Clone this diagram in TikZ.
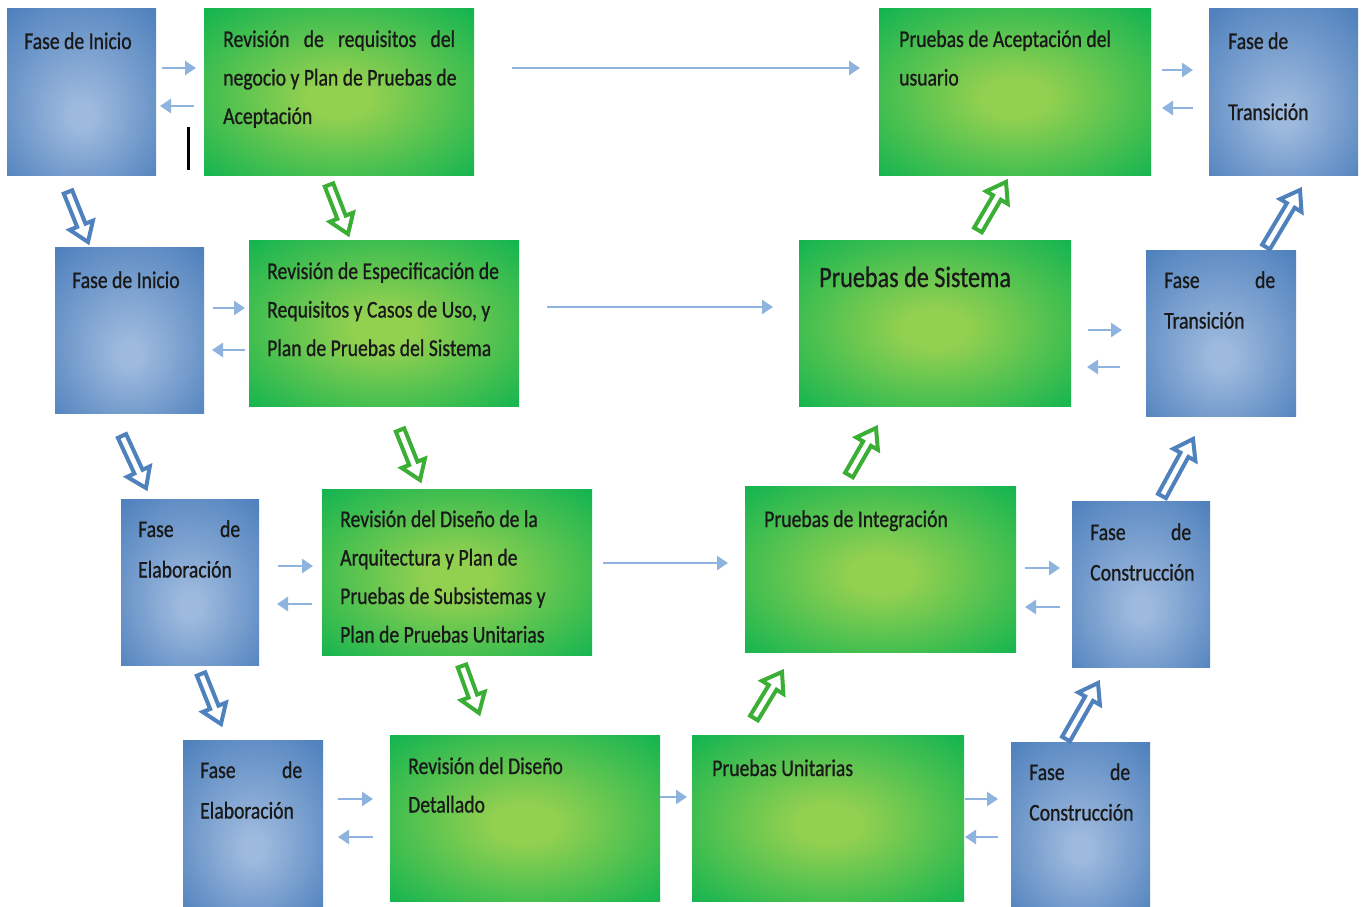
\documentclass[tikz,border=0pt]{standalone}
\usepackage{fontspec}
\setmainfont{Carlito}[FakeStretch=0.82, FakeBold=0.8]
\usetikzlibrary{arrows.meta,calc}
\definecolor{bOut}{HTML}{4F81BD}
\definecolor{bIn}{HTML}{9DB9DD}
\definecolor{gOut}{HTML}{00B050}
\definecolor{gIn}{HTML}{92D050}
\definecolor{thinArr}{HTML}{8FB3DF}
\definecolor{fatBlue}{HTML}{4F81BD}
\definecolor{fatGreen}{HTML}{3AAE35}
\pgfdeclareradialshading{bluegrad}{\pgfpoint{0bp}{-8bp}}{color(0bp)=(bIn); color(4bp)=(bIn); color(36bp)=(bOut); color(50bp)=(bOut)}
\pgfdeclareradialshading{greengrad}{\pgfpoint{0bp}{-2bp}}{color(0bp)=(gIn); color(6bp)=(gIn); color(40bp)=(gOut); color(50bp)=(gOut)}
\newcommand\fatarrow[3]{%
  \coordinate (FAh) at ($(#3)!18pt!(#2)$);
  \filldraw[draw=#1, fill=white, line width=4pt, line join=miter, miter limit=6]
    ($(#2)!4.5pt!90:(#3)$) -- ($(FAh)!4.5pt!-90:(#2)$) -- ($(FAh)!12.5pt!-90:(#2)$) -- (#3)
    -- ($(FAh)!12.5pt!90:(#2)$) -- ($(FAh)!4.5pt!90:(#2)$) -- ($(#2)!4.5pt!-90:(#3)$) -- cycle;
}
\tikzset{
  bbox/.style={shade, shading=bluegrad, draw=none, inner sep=0pt, outer sep=0pt, minimum height=166pt},
  gbox/.style={shade, shading=greengrad, draw=none, inner sep=0pt, outer sep=0pt, minimum width=270pt, minimum height=166pt},
  btxt/.style={anchor=base west, inner sep=0pt, align=left, text=black!90, font=\fontsize{24}{40.5}\selectfont,
    execute at begin node={\spaceskip=0pt\xspaceskip=0pt\relax}},
  gtxt/.style={anchor=base west, inner sep=0pt, align=left, text=black!90, text width=250pt, font=\fontsize{24}{38.5}\selectfont,
    execute at begin node={\spaceskip=0pt\xspaceskip=0pt\relax}},
  tarr/.style={draw=thinArr, line width=2.6pt, -{Triangle[length=11pt,width=14pt]}},
}
\begin{document}
\begin{tikzpicture}[x=1pt,y=-1pt]
\useasboundingbox[fill=white] (0,0) rectangle (1365,907);
% blue boxes
\node[bbox, minimum width=149pt] (B1) at (81.5,92) {};
\node[bbox, minimum width=149pt] (B2) at (129.5,330) {};
\node[bbox, minimum width=138pt] (B3) at (190,582) {};
\node[bbox, minimum width=140pt, minimum height=167pt] (B4) at (253,823.5) {};
\node[bbox, minimum width=139pt, minimum height=165pt] (B5) at (1080.5,824.5) {};
\node[bbox, minimum width=138pt] (B6) at (1141,584) {};
\node[bbox, minimum width=150pt] (B7) at (1221,333) {};
\node[bbox, minimum width=149pt] (B8) at (1283.5,92) {};
% green boxes
\node[gbox] (G1) at (339,92) {};
\node[gbox] (G2) at (384,323) {};
\node[gbox] (G3) at (457,572) {};
\node[gbox] (G4) at (525,818) {};
\node[gbox, minimum width=272pt] (G5) at (828,818) {};
\node[gbox, minimum width=271pt] (G6) at (880.5,569) {};
\node[gbox, minimum width=272pt] (G7) at (935,323) {};
\node[gbox, minimum width=272pt] (G8) at (1015,92) {};
% texts
\node[btxt, text width=130pt] (tB1) at (24,49) {Fase de Inicio};
\node[btxt, text width=130pt] (tB2) at (72,288) {Fase de Inicio};
\node[btxt, text width=102pt] (tB3) at (138,537) {\makebox[102pt][l]{Fase\hfill de}\\Elaboración};
\node[btxt, text width=102pt] (tB4) at (200,778) {\makebox[102pt][l]{Fase\hfill de}\\Elaboración};
\node[btxt, text width=104pt] (tB5) at (1029,780) {\makebox[101pt][l]{Fase\hfill de}\\Construcción};
\node[btxt, text width=104pt] (tB6) at (1090,540) {\makebox[101pt][l]{Fase\hfill de}\\Construcción};
\node[btxt, text width=111pt] (tB7) at (1164,288) {\makebox[111pt][l]{Fase\hfill de}\\Transición};
\node[btxt, text width=120pt] (tB8) at (1228,49) {Fase de\\[30.5pt]Transición};
\node[gtxt] (tG1) at (223,47) {\makebox[232pt][l]{Revisión\hfill de\hfill requisitos\hfill del}\\negocio y Plan de Pruebas de\\Aceptación};
\node[gtxt] (tG2) at (267,279) {Revisión de Especificación de\\Requisitos y Casos de Uso, y\\Plan de Pruebas del Sistema};
\node[gtxt] (tG3) at (340,527) {Revisión del Diseño de la\\Arquitectura y Plan de\\Pruebas de Subsistemas y\\Plan de Pruebas Unitarias};
\node[gtxt] (tG4) at (408,774) {Revisión del Diseño\\Detallado};
\node[gtxt] (tG5) at (712,776) {Pruebas Unitarias};
\node[gtxt] (tG6) at (764,527) {Pruebas de Integración};
\node[gtxt, font=\fontsize{29.5}{38.5}\selectfont] (tG7) at (819,287) {Pruebas de Sistema};
\node[gtxt] (tG8) at (899,47) {Pruebas de Aceptación del\\usuario};
% small black bar
\draw[line width=3pt, black] (188.5,127) -- (188.5,170);
% thin arrows between blue and green boxes
\draw[tarr, shorten <=6pt, shorten >=8pt] ([yshift=24pt]B1.east) -- ([yshift=24pt]G1.west);
\draw[tarr, shorten <=10pt, shorten >=4pt] ([yshift=-14pt]G1.west) -- ([yshift=-14pt]B1.east);
\draw[tarr, shorten <=9pt, shorten >=4pt] ([yshift=22pt]B2.east) -- ([yshift=15pt]G2.west);
\draw[tarr, shorten <=4pt, shorten >=8pt] ([yshift=-27pt]G2.west) -- ([yshift=-20pt]B2.east);
\draw[tarr, shorten <=19pt, shorten >=9pt] ([yshift=16pt]B3.east) -- ([yshift=6pt]G3.west);
\draw[tarr, shorten <=10pt, shorten >=18pt] ([yshift=-32pt]G3.west) -- ([yshift=-22pt]B3.east);
\draw[tarr, shorten <=15pt, shorten >=17pt] ([yshift=24.5pt]B4.east) -- ([yshift=19pt]G4.west);
\draw[tarr, shorten <=17pt, shorten >=15pt] ([yshift=-19pt]G4.west) -- ([yshift=-13.5pt]B4.east);
\draw[tarr, shorten <=1pt, shorten >=13pt] ([yshift=19pt]G5.east) -- ([yshift=25.5pt]B5.west);
\draw[tarr, shorten <=13pt, shorten >=1pt] ([yshift=-12.5pt]B5.west) -- ([yshift=-19pt]G5.east);
\draw[tarr, shorten <=9pt, shorten >=12pt] ([yshift=1pt]G6.east) -- ([yshift=16pt]B6.west);
\draw[tarr, shorten <=12pt, shorten >=9pt] ([yshift=-23pt]B6.west) -- ([yshift=-38pt]G6.east);
\draw[tarr, shorten <=17pt, shorten >=24pt] ([yshift=-7pt]G7.east) -- ([yshift=3pt]B7.west);
\draw[tarr, shorten <=26pt, shorten >=16pt] ([yshift=-34pt]B7.west) -- ([yshift=-44pt]G7.east);
\draw[tarr, shorten <=11pt, shorten >=16pt] ([yshift=22pt]G8.east) -- ([yshift=22pt]B8.west);
\draw[tarr, shorten <=16pt, shorten >=11pt] ([yshift=-16pt]B8.west) -- ([yshift=-16pt]G8.east);
% long arrows between green boxes
\draw[tarr, shorten <=38pt, shorten >=19pt] ([yshift=24pt]G1.east) -- ([yshift=24pt]G8.west);
\draw[tarr, shorten <=28pt, shorten >=26pt] ([yshift=16pt]G2.east) -- ([yshift=16pt]G7.west);
\draw[tarr, shorten <=11pt, shorten >=17pt] ([yshift=9pt]G3.east) -- ([yshift=6pt]G6.west);
\draw[tarr, shorten <=0pt, shorten >=5pt] ([yshift=21pt]G4.east) -- ([yshift=21pt]G5.west);
% fat hollow arrows
\coordinate (f1s) at (68,192);   \coordinate (f1e) at (88,242);
\coordinate (f2s) at (122,436);  \coordinate (f2e) at (146,488);
\coordinate (f3s) at (201,674);  \coordinate (f3e) at (221,724);
\coordinate (f4s) at (329,185);  \coordinate (f4e) at (348,234);
\coordinate (f5s) at (400,430);  \coordinate (f5e) at (420,480);
\coordinate (f6s) at (462,666);  \coordinate (f6e) at (479,713);
\coordinate (f7s) at (754,718);  \coordinate (f7e) at (782,672);
\coordinate (f8s) at (849,475);  \coordinate (f8e) at (876,428);
\coordinate (f9s) at (978,230);  \coordinate (f9e) at (1006,182);
\coordinate (f10s) at (1066,739); \coordinate (f10e) at (1098,683);
\coordinate (f11s) at (1162,496); \coordinate (f11e) at (1193,439);
\coordinate (f12s) at (1266,247); \coordinate (f12e) at (1300,190);
\fatarrow{fatBlue}{f1s}{f1e}
\fatarrow{fatBlue}{f2s}{f2e}
\fatarrow{fatBlue}{f3s}{f3e}
\fatarrow{fatGreen}{f4s}{f4e}
\fatarrow{fatGreen}{f5s}{f5e}
\fatarrow{fatGreen}{f6s}{f6e}
\fatarrow{fatGreen}{f7s}{f7e}
\fatarrow{fatGreen}{f8s}{f8e}
\fatarrow{fatGreen}{f9s}{f9e}
\fatarrow{fatBlue}{f10s}{f10e}
\fatarrow{fatBlue}{f11s}{f11e}
\fatarrow{fatBlue}{f12s}{f12e}
\end{tikzpicture}
\end{document}
